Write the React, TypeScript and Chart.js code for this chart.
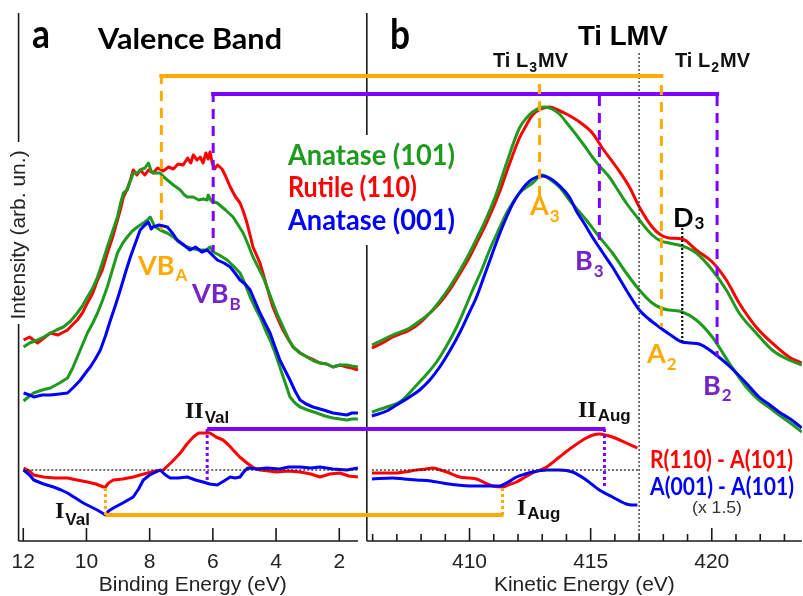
import { useEffect, useRef } from 'react';
import { Chart, registerables } from 'chart.js';
Chart.register(...registerables);

// ---------- Panel a: Valence band (binding energy, eV ; intensity, arb. un.) ----------
const vbRutile110: number[][] = [
  [11.99,201],[11.80,204],[11.55,198],[11.35,203],[11.14,208],[10.90,206],[10.60,211],[10.45,216],[10.29,221],[10.13,228],
  [9.97,238],[9.80,248],[9.65,261],[9.50,271],[9.34,288],[9.18,303],[9.02,321],[8.92,332],[8.83,344],[8.71,352],[8.61,361],
  [8.52,371],[8.40,366],[8.30,371],[8.15,366],[8.04,371],[7.89,368],[7.75,373],[7.57,370],[7.40,374],[7.25,372],[7.10,377],
  [6.94,376],[6.80,383],[6.70,378],[6.62,386],[6.50,381],[6.40,384],[6.31,378],[6.22,388],[6.15,382],[6.09,389],[6.02,378],
  [5.95,372],[5.85,376],[5.71,372],[5.60,365],[5.45,354],[5.30,345],[5.14,338],[5.04,330],[4.92,318],[4.73,294],[4.51,278],
  [4.29,254],[4.10,234],[3.94,222],[3.78,211],[3.62,202],[3.46,194],[3.24,188],[3.02,184],[2.80,181],[2.61,178],[2.40,177],
  [2.20,174],[1.98,176],[1.76,174],[1.60,173],[1.41,171]
];
const vbAnatase101: number[][] = [
  [11.99,194],[11.80,198],[11.55,201],[11.35,204],[11.14,208],[10.95,211],[10.73,214],[10.50,220],[10.29,228],[10.13,235],
  [9.97,244],[9.80,253],[9.65,264],[9.50,278],[9.34,294],[9.18,309],[9.02,324],[8.92,338],[8.83,348],[8.71,351],[8.61,360],
  [8.52,368],[8.40,368],[8.30,371],[8.15,373],[8.04,378],[7.95,370],[7.89,368],[7.67,368],[7.55,364],[7.44,361],[7.25,356],
  [7.03,351],[6.90,346],[6.81,344],[6.62,344],[6.45,341],[6.30,342],[6.18,341],[6.15,346],[6.05,340],[5.86,338],[5.60,331],
  [5.36,324],[5.20,316],[5.04,308],[4.88,296],[4.73,284],[4.57,274],[4.41,264],[4.25,251],[4.10,238],[3.94,225],[3.78,214],
  [3.62,203],[3.46,194],[3.24,188],[3.02,184],[2.80,180],[2.61,178],[2.40,177],[2.20,174],[1.98,176],[1.76,176],[1.60,175],[1.41,174]
];
const vbAnatase101Low: number[][] = [
  [11.99,140],[11.80,145],[11.67,148],[11.40,151],[11.14,153],[10.85,158],[10.60,163],[10.45,172],[10.29,184],[10.13,196],
  [9.97,208],[9.80,218],[9.65,228],[9.50,240],[9.34,254],[9.18,271],[9.02,288],[8.85,298],[8.71,304],[8.55,310],[8.39,314],
  [8.20,318],[8.07,321],[7.98,324],[7.85,315],[7.67,311],[7.45,308],[7.25,304],[7.03,298],[6.81,294],[6.60,292],[6.40,291],
  [6.20,291],[6.09,294],[5.99,289],[5.80,286],[5.55,281],[5.35,275],[5.14,268],[4.98,257],[4.82,244],[4.67,234],[4.51,224],
  [4.35,212],[4.19,201],[4.03,188],[3.88,174],[3.72,159],[3.56,144],[3.40,138],[3.24,134],[3.00,131],[2.71,128],[2.45,125],
  [2.20,123],[1.98,122],[1.76,121],[1.60,122],[1.41,122]
];
const vbAnatase001: number[][] = [
  [11.99,148],[11.80,146],[11.67,144],[11.40,146],[11.14,146],[10.85,147],[10.60,148],[10.40,154],[10.19,161],[10.03,168],
  [9.88,174],[9.72,182],[9.56,191],[9.40,205],[9.24,221],[9.08,236],[8.93,251],[8.77,268],[8.61,284],[8.45,298],[8.30,311],
  [8.15,316],[8.04,319],[7.95,312],[7.89,314],[7.70,316],[7.44,314],[7.28,308],[7.13,301],[6.92,296],[6.72,291],[6.55,294],
  [6.35,289],[6.18,291],[6.02,286],[5.86,281],[5.65,278],[5.45,274],[5.30,268],[5.14,261],[4.98,257],[4.82,251],[4.67,240],
  [4.51,228],[4.35,218],[4.19,208],[4.03,194],[3.88,181],[3.72,171],[3.56,161],[3.40,150],[3.24,141],[3.05,137],[2.83,134],
  [2.50,131],[2.20,128],[1.98,127],[1.76,126],[1.60,128],[1.41,128]
];
const vbDiffRutile: number[][] = [
  [11.99,73],[11.80,70],[11.67,66],[11.36,64],[11.00,63],[10.60,63],[10.30,61],[9.97,59],[9.70,57],[9.46,54],[9.40,54],
  [9.30,58],[9.15,61],[8.85,62],[8.52,64],[8.30,66],[8.07,68],[7.80,70],[7.57,71],[7.30,79],[7.03,88],[6.82,97],[6.62,104],
  [6.45,108],[6.31,108],[6.09,108],[5.90,104],[5.68,101],[5.50,96],[5.36,91],[5.15,84],[4.92,78],[4.70,73],[4.51,71],
  [3.97,69],[3.60,70],[3.24,69],[2.90,67],[2.61,64],[2.30,67],[1.98,68],[1.70,65],[1.41,64]
];
const vbDiffAnatase001: number[][] = [
  [11.99,71],[11.80,66],[11.67,61],[11.36,57],[11.04,54],[10.80,51],[10.60,48],[10.35,43],[10.10,38],[9.85,34],[9.66,31],
  [9.50,28],[9.40,26],[9.30,30],[9.15,33],[8.85,38],[8.52,44],[8.35,52],[8.20,61],[8.00,66],[7.67,71],[7.50,66],[7.35,63],
  [7.10,63],[6.81,64],[6.55,61],[6.31,59],[6.10,57],[5.86,56],[5.65,60],[5.45,64],[5.30,63],[5.14,64],[5.00,70],[4.89,73],
  [4.60,72],[4.29,73],[3.90,72],[3.60,74],[3.24,74],[2.90,73],[2.61,74],[2.20,72],[1.76,71],[1.41,73]
];

// ---------- Panel b: Ti LMV Auger (kinetic energy, eV) ----------
const keRutile110: number[][] = [
  [405.97,193],[406.40,198],[406.83,204],[407.53,211],[407.94,218],[408.36,228],[408.77,238],[409.18,251],[409.59,267],
  [410.00,284],[410.35,301],[410.70,318],[411.24,349],[411.53,369],[412.06,403],[412.35,416],[412.60,426],[412.95,432],
  [413.30,434],[413.65,431],[414.00,427],[414.54,419],[415.07,408],[415.48,393],[416.06,374],[416.60,354],[417.01,334],
  [417.54,314],[417.90,306],[418.24,303],[418.78,302],[419.36,291],[420.02,279],[420.60,261],[421.13,238],[421.83,214],
  [422.49,198],[423.19,184],[423.72,178]
];
const keAnatase101: number[][] = [
  [405.97,196],[406.40,201],[406.83,206],[407.53,213],[407.94,220],[408.36,228],[408.77,240],[409.18,254],[409.59,270],
  [410.00,288],[410.35,305],[410.70,323],[411.12,348],[411.53,378],[412.06,413],[412.35,423],[412.60,429],[413.09,434],
  [413.40,432],[413.71,427],[414.05,417],[414.41,406],[414.75,395],[415.07,384],[415.40,374],[415.77,364],[416.12,351],
  [416.47,338],[417.01,321],[417.54,306],[417.90,300],[418.24,298],[418.78,295],[419.36,288],[420.02,271],[420.60,251],
  [421.13,228],[421.83,208],[422.49,191],[423.19,181],[423.72,176]
];
const keAnatase101Low: number[][] = [
  [405.97,129],[406.58,134],[407.12,139],[407.82,156],[408.20,166],[408.64,179],[409.05,195],[409.47,214],[409.80,232],
  [410.13,251],[410.50,271],[410.83,291],[411.20,311],[411.53,328],[411.80,339],[412.06,348],[412.60,358],[413.01,366],
  [413.35,361],[413.71,354],[414.12,341],[414.82,321],[415.36,304],[415.90,288],[416.47,268],[417.01,251],[417.54,238],
  [417.90,233],[418.24,231],[418.78,229],[419.36,221],[420.02,204],[420.72,178],[421.42,154],[421.95,141],[422.40,133],
  [422.78,126],[423.30,117],[423.72,109]
];
const keAnatase001: number[][] = [
  [405.97,125],[406.58,130],[407.12,138],[407.53,144],[407.94,151],[408.36,161],[408.77,174],[409.18,190],[409.59,208],
  [410.00,229],[410.29,244],[410.62,266],[410.95,288],[411.24,307],[411.53,324],[411.80,338],[412.06,348],[412.35,357],
  [412.60,362],[413.01,365],[413.30,363],[413.59,358],[414.12,344],[414.41,330],[414.75,317],[415.07,304],[415.48,289],
  [415.90,274],[416.20,262],[416.47,251],[417.01,231],[417.40,222],[417.83,214],[418.30,206],[418.78,199],[419.10,198],
  [419.48,197],[420.02,189],[420.72,175],[421.42,158],[421.95,144],[422.40,136],[422.78,129],[423.30,121],[423.72,113]
];
const keDiffRutile: number[][] = [
  [405.97,68],[406.83,68],[407.30,69],[407.82,71],[408.20,72],[408.48,73],[408.80,71],[409.06,69],[409.59,64],[410.00,63],
  [410.29,62],[410.65,58],[410.95,55],[411.36,54],[411.60,56],[411.94,59],[412.30,64],[412.60,68],[413.18,74],[413.71,84],
  [414.25,94],[414.82,103],[415.10,106],[415.36,107],[415.60,106],[415.90,104],[416.47,98],[416.93,93]
];
const keDiffAnatase001: number[][] = [
  [405.97,62],[406.83,63],[407.30,62],[407.82,61],[408.40,60],[408.89,58],[409.50,56],[410.00,55],[410.60,55],[411.24,55],
  [411.60,59],[411.94,64],[412.30,67],[412.60,69],[413.20,71],[413.71,71],[414.25,69],[414.82,61],[415.36,51],[415.90,44],
  [416.47,37],[416.70,36],[416.93,36]
];

// ---------- ticks ----------
const beTicks = [12, 10, 8, 6, 4, 2];
const keTicks = [410, 415, 420];
const keMinorTicks = [406, 407, 408, 409, 411, 412, 413, 414, 416, 417, 418, 419, 421, 422, 423];

// ---------- feature energies ----------
const beVBA = 7.63, beVBB = 5.99;
const keA3 = 412.89, keB3 = 415.36, keA2 = 417.92, keB2 = 420.22, keD3 = 418.78, keSplit = 417.0;
const beIVal = 9.40, keIAug = 411.36, beIIVal = 6.18, keIIAug = 415.57;
const diffZero = 71;

const RED = '#ff0000', GREEN = '#1f9a1f', BLUE = '#0000ff', ORANGE = '#ffaa00', PURPLE = '#8000ff', PTXT = '#7424c8';
const SANS = '"Liberation Sans", Arial, sans-serif';
const CAL = 'Lato, "Open Sans", sans-serif';
const SERIF = '"Liberation Serif", "Times New Roman", serif';

function put(ctx: CanvasRenderingContext2D, s: string, x: number, y: number, font: string, color: string, w?: number, align = 'left') {
  ctx.save();
  ctx.font = font; ctx.fillStyle = color; ctx.textBaseline = 'alphabetic'; ctx.textAlign = 'left';
  const m = ctx.measureText(s).width;
  const sx = w ? w / m : 1;
  const width = m * sx;
  const x0 = align === 'center' ? x - width / 2 : align === 'right' ? x - width : x;
  ctx.translate(x0, y); ctx.scale(sx, 1); ctx.fillText(s, 0, 0);
  ctx.restore();
  return x0 + width;
}

function sub(ctx: CanvasRenderingContext2D, main: string, s: string, x: number, y: number, y2: number, f1: string, f2: string, color: string, after = '') {
  let e = put(ctx, main, x, y, f1, color);
  e = put(ctx, s, e + 1, y2, f2, color);
  if (after) put(ctx, after, e + 1, y, f1, color);
}

const overlay = {
  id: 'overlay',
  afterDatasetsDraw(chart: any) {
    const ctx: CanvasRenderingContext2D = chart.ctx;
    const xa = chart.scales.xa, xb = chart.scales.xb, ys = chart.scales.y;
    const pa = (v: number) => xa.getPixelForValue(v);
    const pb = (v: number) => xb.getPixelForValue(v);
    const py = (v: number) => ys.getPixelForValue(v);
    const ln = (x1: number, y1: number, x2: number, y2: number, c: string, w: number, dash: number[] = []) => {
      ctx.save(); ctx.strokeStyle = c; ctx.lineWidth = w; ctx.setLineDash(dash); ctx.lineCap = 'butt';
      ctx.beginPath(); ctx.moveTo(x1, y1); ctx.lineTo(x2, y2); ctx.stroke(); ctx.restore();
    };
    const ca = chart.chartArea;
    // axes frames
    const k = '#1a1a1a';
    ln(ca.left, ca.bottom, pa(1.41), ca.bottom, k, 1.6);
    ln(xb.left, ca.bottom, ca.right, ca.bottom, k, 1.6);
    ln(ca.left, ca.top, ca.left, 142, k, 1.6);
    ln(ca.left, 324, ca.left, ca.bottom, k, 1.6);
    ln(xb.left, ca.top, xb.left, 135, k, 1.6);
    ln(xb.left, 245, xb.left, ca.bottom, k, 1.6);
    beTicks.forEach(v => ln(pa(v), ca.bottom, pa(v), ca.bottom - 13, k, 1.6));
    keTicks.forEach(v => ln(pb(v), ca.bottom, pb(v), ca.bottom - 13, k, 1.6));
    keMinorTicks.forEach(v => ln(pb(v), ca.bottom, pb(v), ca.bottom - 7, k, 1.6));

    // dotted references
    ln(pa(12), py(diffZero), pa(1.41), py(diffZero), '#222', 1.3, [2, 2]);
    ln(pb(405.97), py(diffZero), pb(keSplit), py(diffZero), '#222', 1.3, [2, 2]);
    ln(pb(keSplit), py(488), pb(keSplit), ca.bottom, '#333', 1.3, [2, 2]);
    ln(pb(keD3), py(313), pb(keD3), py(198), '#111', 2.2, [2, 2]);

    // top brackets
    ln(pa(beVBA) - 2, py(465), pb(keA2) + 2, py(465), ORANGE, 4);
    ln(pa(beVBB) - 2, py(447), pb(keB2) + 2, py(447), PURPLE, 4);
    ln(pa(beVBA), py(465) - 2, pa(beVBA), py(311), ORANGE, 3, [10, 7]);
    ln(pb(keA2), py(465) + 9, pb(keA2), py(214), ORANGE, 3, [10, 7]);
    ln(pb(keA3), py(457), pb(keA3), py(344), ORANGE, 3, [10, 7]);
    ln(pa(beVBB), py(447) - 2, pa(beVBB), py(289), PURPLE, 3, [10, 7]);
    ln(pb(keB3), py(447) + 2, pb(keB3), py(301), PURPLE, 3, [10, 7]);
    ln(pb(keB2), py(447) + 2, pb(keB2), py(184), PURPLE, 3, [10, 7]);

    // difference brackets
    ln(pa(beIIVal), py(112), pb(keIIAug) + 1, py(112), PURPLE, 4);
    ln(pa(beIIVal), py(112), pa(beIIVal), py(60), PURPLE, 3, [3, 3]);
    ln(pb(keIIAug), py(112), pb(keIIAug), py(54), PURPLE, 3, [3, 3]);
    ln(pa(beIVal), py(26), pb(keIAug) + 1, py(26), ORANGE, 4);
    ln(pa(beIVal), py(26), pa(beIVal), py(54), ORANGE, 3, [3, 3]);
    ln(pb(keIAug), py(26), pb(keIAug), py(54), ORANGE, 3, [3, 3]);
  },
  afterDraw(chart: any) {
    const ctx: CanvasRenderingContext2D = chart.ctx;
    put(ctx, 'a', 32, 48, `bold 40px ${CAL}`, '#000', 18);
    put(ctx, 'b', 390, 49, `bold 42px ${CAL}`, '#000', 20);
    put(ctx, 'Valence Band', 98, 49, `bold 29px ${CAL}`, '#000', 184);
    put(ctx, 'Ti LMV', 578, 45, `bold 28px ${SANS}`, '#000', 90);
    sub(ctx, 'Ti L', '3', 493, 67, 72, `bold 20px ${SANS}`, `bold 14px ${SANS}`, '#111', 'MV');
    sub(ctx, 'Ti L', '2', 675, 67, 72, `bold 20px ${SANS}`, `bold 14px ${SANS}`, '#111', 'MV');

    put(ctx, 'Anatase (101)', 288, 165, `bold 28px ${CAL}`, GREEN, 167);
    put(ctx, 'Rutile (110)', 288, 197, `bold 28px ${CAL}`, RED, 129);
    put(ctx, 'Anatase (001)', 288, 230, `bold 28px ${CAL}`, BLUE, 167);

    put(ctx, 'R(110) - A(101)', 650, 468, `bold 25px ${CAL}`, RED, 143);
    put(ctx, 'A(001) - A(101)', 650, 495, `bold 25px ${CAL}`, BLUE, 144);
    put(ctx, '(x 1.5)', 692, 513, `17px ${SANS}`, '#333', 50);

    const F1 = `bold 27px ${CAL}`, F2 = `bold 17px ${CAL}`;
    sub(ctx, 'VB', 'A', 138, 275, 281, F1, F2, ORANGE);
    sub(ctx, 'VB', 'B', 192, 303, 310, F1, F2, PTXT);
    sub(ctx, 'A', '3', 530, 215, 222, F1, F2, ORANGE);
    sub(ctx, 'B', '3', 575, 270, 277, F1, F2, PTXT);
    sub(ctx, 'D', '3', 673, 227, 229, F1, F2, '#000');
    sub(ctx, 'A', '2', 647, 363, 370, F1, F2, ORANGE);
    sub(ctx, 'B', '2', 703, 395, 401, F1, F2, PTXT);

    const R1 = `bold 24px ${SERIF}`, R2 = `bold 17px ${SANS}`;
    sub(ctx, 'II', 'Val', 185, 418, 423, R1, R2, '#111');
    sub(ctx, 'I', 'Val', 55, 518, 525, R1, R2, '#111');
    sub(ctx, 'II', 'Aug', 578, 417, 421, R1, R2, '#111');
    sub(ctx, 'I', 'Aug', 517, 515, 519, R1, R2, '#111');

    ctx.save();
    ctx.translate(25, 235); ctx.rotate(-Math.PI / 2);
    ctx.font = `21px ${SANS}`; ctx.fillStyle = '#222'; ctx.textAlign = 'center'; ctx.textBaseline = 'alphabetic';
    ctx.fillText('Intensity (arb. un.)', 0, 0);
    ctx.restore();
  }
};

const ds = (pts: number[][], color: string, xAxisID: string, order: number, smooth: boolean) => ({
  data: pts.map(([x, y]) => ({ x, y })),
  borderColor: color, borderWidth: 3, pointRadius: 0, fill: false, xAxisID, yAxisID: 'y', order,
  tension: 0, cubicInterpolationMode: smooth ? 'monotone' : 'default', borderJoinStyle: 'round'
});

const axisCommon = (title: string) => ({
  type: 'linear', position: 'bottom', stack: 'bottom',
  grid: { display: false, drawTicks: false }, border: { display: false },
  ticks: { autoSkip: false, maxRotation: 0, padding: 9, color: '#222', font: { family: SANS, size: 21 }, callback: (v: any) => String(v) },
  title: { display: true, text: title, color: '#222', font: { family: SANS, size: 21 }, padding: { top: 0, bottom: -2 } },
  afterFit: (s: any) => { s.height = 55; }
});

export default function App() {
  const ref = useRef<HTMLCanvasElement>(null);
  useEffect(() => {
    const chart = new Chart(ref.current as HTMLCanvasElement, {
      type: 'line',
      data: {
        datasets: [
          ds(vbRutile110, RED, 'xa', 3, false),
          ds(vbAnatase101, GREEN, 'xa', 2, false),
          ds(vbAnatase101Low, GREEN, 'xa', 2, false),
          ds(vbAnatase001, BLUE, 'xa', 1, false),
          ds(vbDiffRutile, RED, 'xa', 3, false),
          ds(vbDiffAnatase001, BLUE, 'xa', 1, false),
          ds(keRutile110, RED, 'xb', 3, true),
          ds(keAnatase101, GREEN, 'xb', 2, true),
          ds(keAnatase101Low, GREEN, 'xb', 2, true),
          ds(keAnatase001, BLUE, 'xb', 1, true),
          ds(keDiffRutile, RED, 'xb', 3, true),
          ds(keDiffAnatase001, BLUE, 'xb', 1, true)
        ] as any
      },
      options: {
        responsive: false, maintainAspectRatio: false, animation: false, devicePixelRatio: 1, events: [],
        layout: { padding: { left: 18, top: 13, right: 0, bottom: 0 } },
        plugins: { legend: { display: false }, tooltip: { enabled: false } },
        scales: {
          xa: {
            ...axisCommon('Binding Energy (eV)'), stackWeight: 349, reverse: true, min: 1.128, max: 12.148,
            afterBuildTicks: (s: any) => { s.ticks = beTicks.map(v => ({ value: v })); }
          },
          xb: {
            ...axisCommon('Kinetic Energy (eV)'), stackWeight: 436, min: 405.76, max: 423.72,
            afterBuildTicks: (s: any) => { s.ticks = keTicks.map(v => ({ value: v })); }
          },
          y: { type: 'linear', display: false, min: 0, max: 528 }
        } as any
      },
      plugins: [overlay as any]
    });
    return () => chart.destroy();
  }, []);
  return (
    <div style={{ position: 'fixed', left: 0, top: 0, width: 803, height: 596, background: '#fff' }}>
      <canvas ref={ref} width={803} height={596} style={{ display: 'block', width: 803, height: 596 }} />
    </div>
  );
}
